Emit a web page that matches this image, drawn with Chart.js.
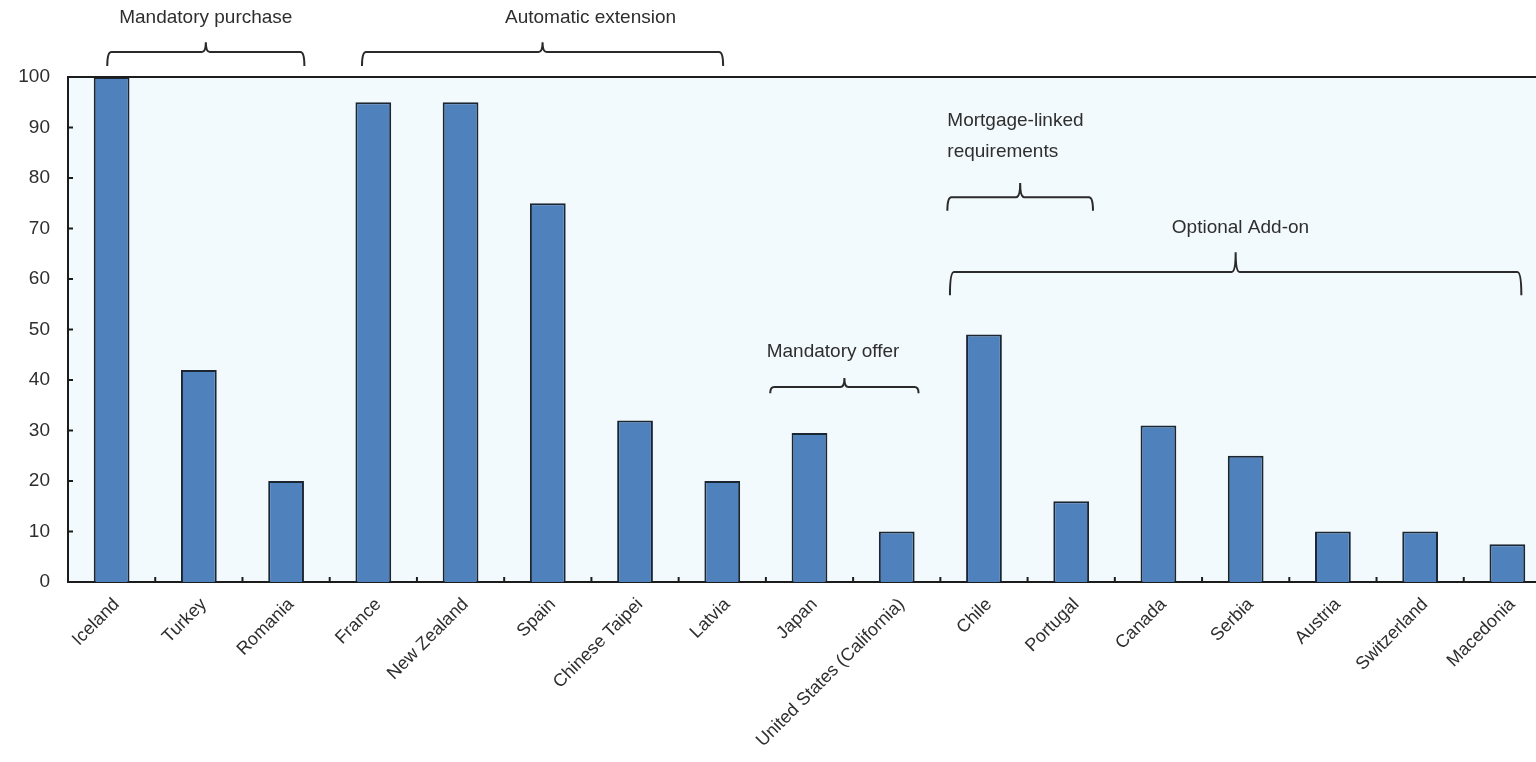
<!DOCTYPE html>
<html>
<head>
<meta charset="utf-8">
<script src="https://cdn.jsdelivr.net/npm/chart.js@4.4.0/dist/chart.umd.min.js"></script>
<style>
  html, body { margin: 0; padding: 0; background: #fff; overflow: hidden; }
  #wrap { position: absolute; left: 0; top: 0; width: 1551px; height: 762px; }
</style>
</head>
<body>
<div id="wrap"><canvas id="chart"></canvas></div>
<script>
// Data
const countries = ['Iceland', 'Turkey', 'Romania', 'France', 'New Zealand', 'Spain', 'Chinese Taipei', 'Latvia',
    'Japan', 'United States (California)', 'Chile', 'Portugal', 'Canada', 'Serbia', 'Austria', 'Switzerland', 'Macedonia'];
const shares = [100, 42, 20, 95, 95, 75, 32, 20, 29.5, 10, 49, 16, 31, 25, 10, 10, 7.5];
const yTicks = [0, 10, 20, 30, 40, 50, 60, 70, 80, 90, 100];

// Group brackets above the bars (category index span, heights in y units)
const groupLabels = [['Mandatory purchase'], ['Automatic extension'], ['Mandatory offer'], ['Mortgage-linked', 'requirements'], ['Optional Add-on']];
const groupFrom = [-0.05, 2.87, 7.55, 9.58, 9.61];
const groupTo = [2.21, 7.01, 9.25, 11.25, 16.16];

const bracketStyle = [
    { line: 104.95, end: 102.2, tip: 106.9, text: 111.7, textX: null, align: 'center' },
    { line: 104.95, end: 102.2, tip: 106.9, text: 111.7, textX: 5.49, align: 'center' },
    { line: 38.6, end: 37.4, tip: 40.4, text: 45.5, textX: 8.27, align: 'center' },
    { line: 76.2, end: 73.5, tip: 79.0, text: 91.3, textX: 9.58, align: 'left' },
    { line: 61.4, end: 56.8, tip: 65.3, text: 70.1, textX: 12.94, align: 'center' }
];

const FONT = '"Liberation Sans", Arial, sans-serif';
const TEXT = '#2e2e2e';

const frame = {
    id: 'frame',
    beforeDraw(chart) {
        const { ctx, chartArea: a } = chart;
        ctx.save();
        ctx.fillStyle = '#f3fafd';
        ctx.fillRect(a.left, a.top, a.right - a.left, a.bottom - a.top);
        ctx.restore();
    },
    afterDatasetsDraw(chart) {
        const { ctx, chartArea: a, scales: { x, y } } = chart;
        ctx.save();
        ctx.strokeStyle = '#1c1c1c';
        ctx.lineWidth = 2;
        // top border
        ctx.beginPath();
        ctx.moveTo(a.left, a.top);
        ctx.lineTo(a.right, a.top);
        ctx.stroke();
        // y ticks pointing inward
        yTicks.forEach(v => {
            const py = y.getPixelForValue(v);
            ctx.beginPath();
            ctx.moveTo(a.left, py);
            ctx.lineTo(a.left + 5, py);
            ctx.stroke();
        });
        // x ticks between categories
        for (let i = 1; i < countries.length; i++) {
            const px = x.getPixelForValue(i - 0.5);
            ctx.beginPath();
            ctx.moveTo(px, a.bottom);
            ctx.lineTo(px, a.bottom - 5);
            ctx.stroke();
        }
        ctx.restore();
    },
    afterDraw(chart) {
        const { ctx, scales: { x, y } } = chart;
        ctx.save();
        ctx.strokeStyle = '#2a2a2a';
        ctx.lineWidth = 2;
        ctx.fillStyle = TEXT;
        ctx.font = '19px ' + FONT;
        ctx.textBaseline = 'middle';
        groupLabels.forEach((lines, i) => {
            const s = bracketStyle[i];
            const x0 = x.getPixelForValue(groupFrom[i]);
            const x1 = x.getPixelForValue(groupTo[i]);
            const xm = (x0 + x1) / 2;
            const yl = y.getPixelForValue(s.line);
            const ye = y.getPixelForValue(s.end);
            const yt = y.getPixelForValue(s.tip);
            const r = 4;
            ctx.beginPath();
            ctx.moveTo(x0, ye);
            ctx.quadraticCurveTo(x0, yl, x0 + r, yl);
            ctx.lineTo(xm - r, yl);
            ctx.quadraticCurveTo(xm, yl, xm, yt);
            ctx.quadraticCurveTo(xm, yl, xm + r, yl);
            ctx.lineTo(x1 - r, yl);
            ctx.quadraticCurveTo(x1, yl, x1, ye);
            ctx.stroke();
            const tx = s.textX === null ? xm : x.getPixelForValue(s.textX);
            ctx.textAlign = s.align;
            lines.forEach((t, k) => {
                ctx.fillText(t, tx, y.getPixelForValue(s.text) + k * 31);
            });
        });
        ctx.restore();
    }
};

new Chart(document.getElementById('chart'), {
    type: 'bar',
    data: {
        labels: countries,
        datasets: [{
            data: shares,
            backgroundColor: '#4f81bd',
            borderColor: '#1b2633',
            borderWidth: 2,
            barPercentage: 0.41,
            categoryPercentage: 1
        }]
    },
    options: {
        responsive: true,
        maintainAspectRatio: false,
        animation: false,
        layout: { padding: { top: 77, right: 0, left: 0, bottom: 0 } },
        plugins: { legend: { display: false }, tooltip: { enabled: false } },
        scales: {
            x: {
                grid: { display: false },
                border: { display: true, color: '#1c1c1c', width: 2 },
                ticks: {
                    color: TEXT,
                    font: { family: FONT, size: 18 },
                    maxRotation: 45,
                    minRotation: 45,
                    padding: 4,
                    labelOffset: 5,
                    autoSkip: false
                },
                afterFit(scale) { scale.height = 180; }
            },
            y: {
                min: 0,
                max: 100,
                grid: { display: false },
                border: { display: true, color: '#1c1c1c', width: 2 },
                afterBuildTicks(scale) { scale.ticks = yTicks.map(v => ({ value: v })); },
                ticks: {
                    color: TEXT,
                    font: { family: FONT, size: 19 },
                    padding: 10
                },
                afterFit(scale) { scale.width = 68; }
            }
        }
    },
    plugins: [frame]
});
</script>
</body>
</html>
